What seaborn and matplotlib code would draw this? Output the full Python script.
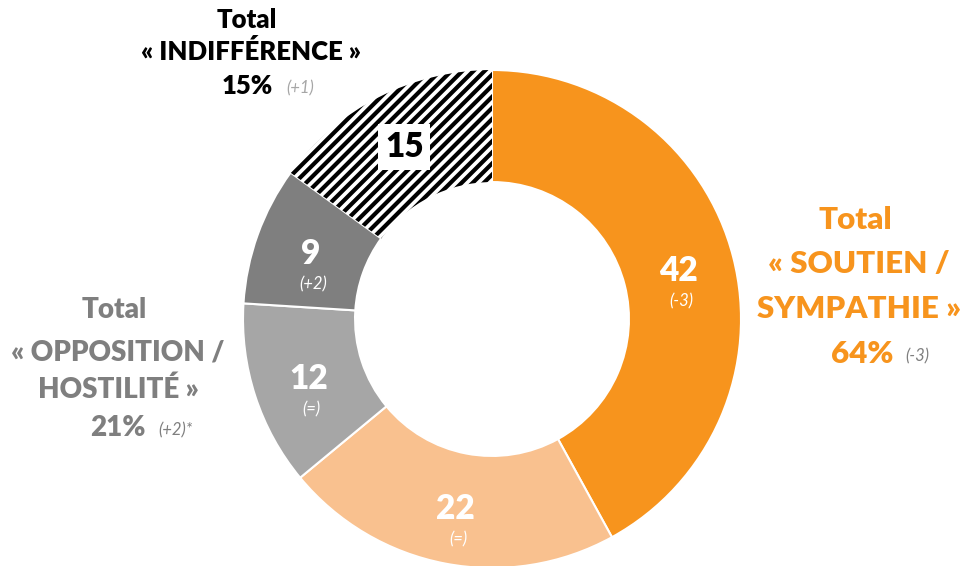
import numpy as np
import seaborn as sns
from matplotlib import pyplot as plt

# segments, clockwise from the top
values = [42, 22, 12, 9, 15]
changes = ['(-3)', '(=)', '(=)', '(+2)', '']
colors = ['#F7941D', '#F9C18F', '#A6A6A6', '#7F7F7F', 'white']

# group totals
group_titles = [['« SOUTIEN /', 'SYMPATHIE »'], ['« OPPOSITION /', 'HOSTILITÉ »'], ['« INDIFFÉRENCE »']]
group_totals = [64, 21, 15]
group_changes = ['(-3)', '(+2)*', '(+1)']

sns.set_theme(style='white')
plt.rcParams['font.family'] = ['Lato', 'DejaVu Sans']
plt.rcParams['hatch.linewidth'] = 3.0

W, H = 965, 566
fig = plt.figure(figsize=(W / 100, H / 100), dpi=100)

cx, cy, R = 492, 319, 249
ax = fig.add_axes([(cx - R) / W, (H - cy - R) / H, 2 * R / W, 2 * R / H])

wedges, _ = ax.pie(values, colors=colors, startangle=90, counterclock=False,
                   radius=1, wedgeprops=dict(width=0.45, edgecolor='white', linewidth=1.5))
hatched = wedges[-1]
hatched.set_hatch('///')
hatched.set_edgecolor('black')
hatched.set_linewidth(0)
ax.set_xlim(-1, 1)
ax.set_ylim(-1, 1)
ax.set_aspect('equal')
ax.axis('off')

# value labels at the middle of the ring
mid_r = 1 - 0.45 / 2
for w, v, ch in zip(wedges, values, changes):
    ang = np.deg2rad((w.theta1 + w.theta2) / 2)
    x, y = mid_r * np.cos(ang), mid_r * np.sin(ang)
    if ch:
        ax.text(x, y, str(v), ha='center', va='center', color='white',
                fontsize=24, fontweight='heavy')
        ax.annotate(ch, (x, y), xytext=(2, -22), textcoords='offset points',
                    ha='center', va='center', color='white', fontsize=12, style='italic')
    else:
        ax.text(x, y, str(v), ha='center', va='center', color='black',
                fontsize=24, fontweight='heavy',
                bbox=dict(boxstyle='square,pad=0.2', fc='white', ec='none'))


def px(x, y):
    return x / W, 1 - y / H


def block(x, ys, lines, pct, pct_x, ch, ch_x, color, ch_color, size):
    for yy, line in zip(ys[:-1], ['Total'] + lines):
        fig.text(*px(x if line != 'Total' else x - 4, yy), line, ha='center', va='center', color=color,
                 fontsize=size, fontweight='heavy')
    fig.text(*px(pct_x, ys[-1]), f'{pct}%', ha='right', va='center', color=color, fontsize=size,
             fontweight='heavy')
    fig.text(*px(ch_x, ys[-1] + 2), ch, ha='left', va='center', color=ch_color, fontsize=12,
             style='italic')


# right: soutien / sympathie
block(859, [220, 264, 309, 354], group_titles[0], group_totals[0], 893, group_changes[0], 905,
      '#F7941D', '#7F7F7F', 22.5)
# left: opposition / hostilite
block(118, [310, 352, 390, 428], group_titles[1], group_totals[1], 146, group_changes[1], 158,
      '#7F7F7F', '#7F7F7F', 20)
# top: indifference
block(251, [20, 52, 86], group_titles[2], group_totals[2], 273, group_changes[2], 286,
      'black', '#A6A6A6', 18.5)

fig.savefig('out.png', dpi=100, facecolor='white')
